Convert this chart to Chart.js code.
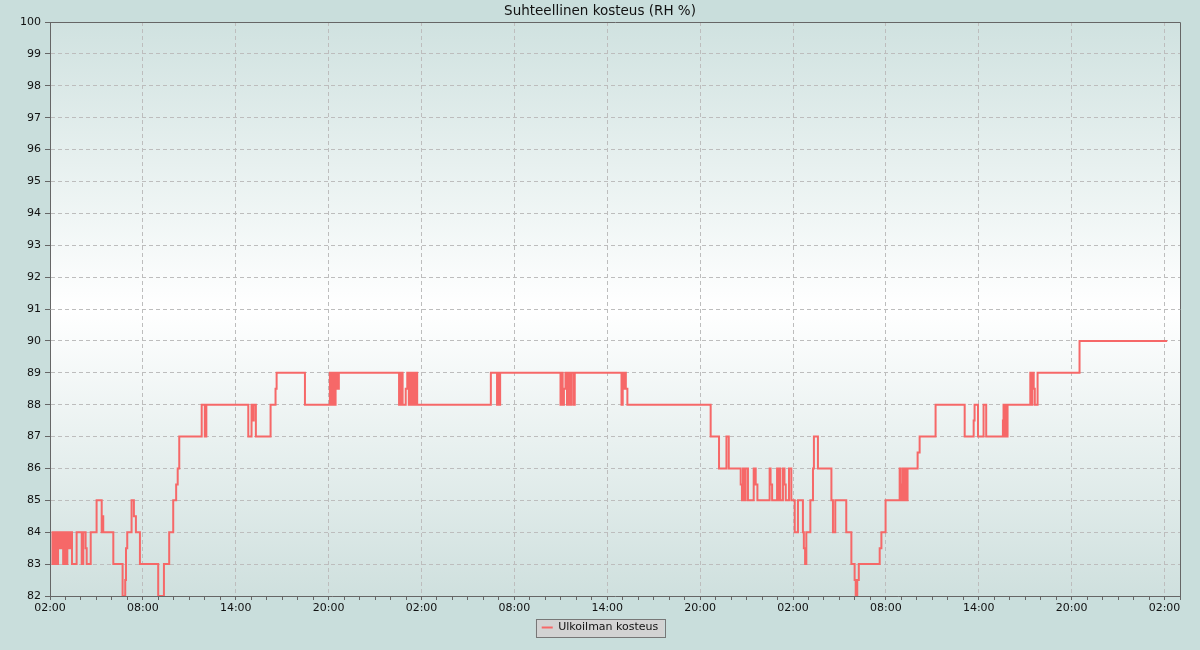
<!DOCTYPE html>
<html>
<head>
<meta charset="utf-8">
<title>Suhteellinen kosteus</title>
<script src="https://cdn.jsdelivr.net/npm/chart.js@4/dist/chart.umd.min.js"></script>
<style>
  html, body { margin: 0; padding: 0; background: #c9dedc; }
  #wrap { width: 1200px; height: 650px; }
</style>
</head>
<body>
<div id="wrap"><canvas id="rhChart" width="1200" height="650"></canvas></div>
<script>
// Data: hours since 02:00 on day 1, and RH % from that moment on
const hours = [
  0.10, 0.16, 0.26, 0.32, 0.45, 0.52, 0.65, 0.72, 0.85, 0.95, 1.05, 1.12, 1.22, 1.30,
  1.42, 1.72, 2.05, 2.15, 2.30, 2.37, 2.63, 3.01, 3.34, 3.40, 3.44, 4.09, 4.69, 4.86,
  4.91, 4.99, 5.27, 5.42, 5.55, 5.81, 6.99, 7.36, 7.70, 7.96, 8.15, 8.25, 8.35,
  9.80, 10.00, 10.10, 12.81, 13.02, 13.12, 13.16, 13.30, 14.25, 14.57, 14.64,
  16.47, 18.08, 18.17, 18.26, 18.35, 18.45, 18.55, 18.66,
  22.55, 22.65, 22.78, 22.98, 23.08, 23.18, 23.28, 23.38, 23.45, 23.55, 23.62, 23.72,
  28.48, 28.88, 28.95, 29.02, 29.08,
  32.98, 33.05, 33.12, 33.20, 33.30, 33.40, 33.50, 33.58, 33.68, 33.82, 33.90,
  36.92, 37.00, 37.06, 37.12, 37.20, 37.30,
  42.68, 43.22, 43.70, 43.85, 44.62, 44.70, 44.77, 44.88, 44.94, 45.09, 45.46, 45.59, 45.70,
  46.49, 46.55, 46.65, 46.97, 47.04, 47.10, 47.18, 47.35, 47.45, 47.53, 47.74, 47.89,
  48.11, 48.32, 48.64, 48.70, 48.78, 48.86, 49.12, 49.29, 49.35, 49.61,
  50.48, 50.58, 50.73, 51.44, 51.77, 51.98, 52.05, 52.15, 52.25,
  53.60, 53.71, 53.98, 54.89, 54.96, 55.02, 55.10, 55.18, 55.27, 55.33, 55.40,
  56.05, 56.18, 57.21, 59.09, 59.67, 59.73, 59.95, 60.31, 60.48,
  61.56, 61.60, 61.66, 61.72, 61.78, 61.86,
  63.33, 63.40, 63.46, 63.55, 63.62, 63.80, 66.51, 72.17
];
const rh = [
  83, 84, 83, 84, 83, 84, 83.5, 84, 83, 84, 83, 84, 83.5, 84,
  83, 84, 83, 84, 83.5, 83, 84, 85, 84, 84.5, 84, 83, 82, 82.5,
  83.5, 84, 85, 84.5, 84, 83, 82, 83, 84, 85, 85.5, 86, 87,
  88, 87, 88, 87, 88, 87.5, 88, 87, 88, 88.5, 89,
  88, 89, 88, 89, 88, 89, 88.5, 89,
  88, 89, 88, 88.5, 89, 88, 89, 88, 89, 88, 89, 88,
  89, 88, 89, 88, 89,
  88, 89, 88, 88.5, 89, 88, 89, 88, 89, 88, 89,
  88, 89, 88.5, 89, 88.5, 88,
  87, 86, 87, 86, 85.5, 85, 86, 85, 86, 85, 86, 85.5, 85,
  86, 85.5, 85, 86, 85, 86, 85, 86, 85.5, 85, 86, 85,
  84, 85, 84, 83.5, 83, 84, 85, 86, 87, 86,
  85, 84, 85, 84, 83, 82.5, 82, 82.5, 83,
  83.5, 84, 85, 86, 85.5, 85, 86, 85, 86, 85, 86,
  86.5, 87, 88, 87, 87.5, 88, 87, 88, 87,
  87.5, 88, 87, 88, 87, 88,
  89, 88, 89, 88.5, 88, 89, 90, 90
];
const seriesName = 'Ulkoilman kosteus';
const chartTitle = 'Suhteellinen kosteus (RH %)';
const yTicks = [82, 100];        // axis range, one label per whole percent
const hourLabelEvery = 6;        // time labels every 6 hours, small ticks every hour
const startHour = 2;             // first tick is 02:00

const lineColor = '#f66868';
const gridColor = '#bdbdbd';
const axisColor = '#666666';

function hourLabel(h) {
  const hh = (startHour + h) % 24;
  return (hh < 10 ? '0' : '') + hh + ':00';
}

// background, plot gradient, frame and legend box
const backdrop = {
  id: 'backdrop',
  beforeDraw(chart) {
    const { ctx, chartArea: a } = chart;
    ctx.save();
    ctx.fillStyle = '#c9dedc';
    ctx.fillRect(0, 0, chart.width, chart.height);
    const g = ctx.createLinearGradient(0, a.top, 0, a.bottom);
    g.addColorStop(0, '#d0e2e0');
    g.addColorStop(0.5, '#ffffff');
    g.addColorStop(1, '#cfe0de');
    ctx.fillStyle = g;
    ctx.fillRect(a.left, a.top, a.right - a.left, a.bottom - a.top);
    const hb = chart.legend && chart.legend.legendHitBoxes && chart.legend.legendHitBoxes[0];
    if (hb) {
      ctx.fillStyle = '#d3d3d3';
      ctx.strokeStyle = '#777777';
      ctx.lineWidth = 1;
      ctx.fillRect(hb.left - 6, hb.top - 3, hb.width + 12, hb.height + 7);
      ctx.strokeRect(Math.round(hb.left - 6) + 0.5, Math.round(hb.top - 3) + 0.5, Math.round(hb.width + 12), Math.round(hb.height + 7));
    }
    ctx.restore();
  },
  afterDraw(chart) {
    const { ctx, chartArea: a } = chart;
    ctx.save();
    ctx.strokeStyle = axisColor;
    ctx.lineWidth = 1;
    ctx.beginPath();
    ctx.moveTo(Math.round(a.left) + 0.5, Math.round(a.top) + 0.5);
    ctx.lineTo(Math.round(a.right) + 0.5, Math.round(a.top) + 0.5);
    ctx.lineTo(Math.round(a.right) + 0.5, Math.round(a.bottom) + 0.5);
    ctx.stroke();
    ctx.restore();
  }
};

Chart.defaults.font.family = '"DejaVu Sans", sans-serif';
Chart.defaults.font.size = 11;
Chart.defaults.color = '#111111';

new Chart(document.getElementById('rhChart'), {
  type: 'line',
  data: {
    datasets: [{
      label: seriesName,
      data: hours.map((h, i) => ({ x: h, y: rh[i] })),
      borderColor: lineColor,
      backgroundColor: lineColor,
      borderWidth: 2,
      pointRadius: 0,
      stepped: true,
      fill: false
    }]
  },
  plugins: [backdrop],
  options: {
    responsive: false,
    animation: false,
    layout: { padding: { left: 20, right: 20, top: 0, bottom: 7 } },
    scales: {
      x: {
        type: 'linear',
        min: 0,
        max: 73,
        afterFit(s) { s.height = 18; },
        ticks: {
          stepSize: 1,
          autoSkip: false,
          maxRotation: 0,
          padding: 2,
          color: '#111111',
          callback: v => (v % hourLabelEvery === 0 ? hourLabel(v) : '')
        },
        grid: {
          color: c => (c.tick && c.tick.value % hourLabelEvery === 0 && c.tick.value > 0 ? gridColor : 'rgba(0,0,0,0)'),
          tickColor: axisColor,
          tickLength: 4,
          lineWidth: 1
        },
        border: { display: true, color: axisColor, width: 1, dash: [4, 3] }
      },
      y: {
        min: yTicks[0],
        max: yTicks[1],
        afterFit(s) { s.width = 30; },
        ticks: { stepSize: 1, padding: 4, color: '#111111' },
        grid: {
          color: c => (c.tick && c.tick.value > yTicks[0] && c.tick.value < yTicks[1] ? gridColor : 'rgba(0,0,0,0)'),
          tickColor: axisColor,
          tickLength: 5,
          lineWidth: 1
        },
        border: { display: true, color: axisColor, width: 1, dash: [4, 3] }
      }
    },
    plugins: {
      title: {
        display: true,
        text: chartTitle,
        color: '#111111',
        font: { size: 13.5, weight: 'normal' },
        padding: { top: 3, bottom: 2.8 }
      },
      legend: {
        position: 'bottom',
        labels: {
          boxWidth: 11,
          boxHeight: 2,
          padding: 8,
          color: '#111111',
          generateLabels(chart) {
            const items = Chart.defaults.plugins.legend.labels.generateLabels(chart);
            items.forEach(it => { it.lineWidth = 0; it.fillStyle = lineColor; });
            return items;
          }
        }
      },
      tooltip: { enabled: false }
    }
  }
});
</script>
</body>
</html>
